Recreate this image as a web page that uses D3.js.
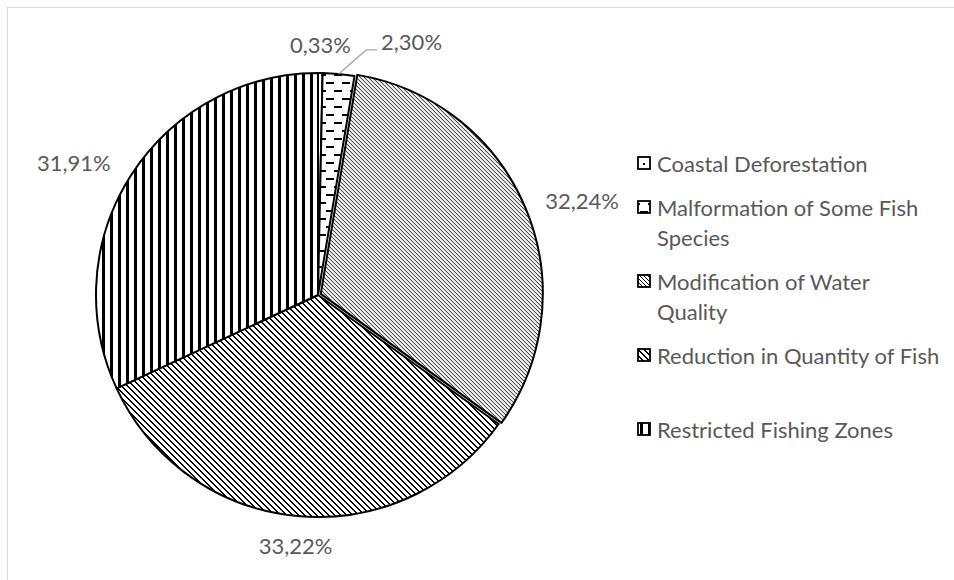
<!DOCTYPE html>
<html>
<head>
<meta charset="utf-8">
<script src="https://cdn.jsdelivr.net/npm/d3@7"></script>
<style>
  html, body { margin: 0; padding: 0; background: #fff; }
  svg { display: block; }
  text { font-family: Lato, "Open Sans", sans-serif; fill: #595959; }
</style>
</head>
<body>
<svg id="chart" width="954" height="580"></svg>
<script>
// Perceived impacts, share of responses (%)
const categories = [
  "Coastal Deforestation",
  "Malformation of Some Fish Species",
  "Modification of Water Quality",
  "Reduction in Quantity of Fish",
  "Restricted Fishing Zones"
];
const shares = [0.33, 2.30, 32.24, 33.22, 31.91];
const patternIds = ["p-dots", "p-dash", "p-diag-fine", "p-diag", "p-vert"];

const W = 954, H = 580;
const cx = 318, cy = 295, R = 222;
const fontSize = 22;
const svg = d3.select("#chart");

// outer frame
svg.append("rect")
  .attr("x", 7.5).attr("y", 7.5).attr("width", W + 20).attr("height", H + 20)
  .attr("fill", "#fff").attr("stroke", "#d9d9d9").attr("stroke-width", 1);

// pixel hatch patterns
const defs = svg.append("defs");
function pattern(id, w, h) {
  const p = defs.append("pattern").attr("id", id)
    .attr("patternUnits", "userSpaceOnUse").attr("width", w).attr("height", h);
  p.append("rect").attr("width", w).attr("height", h).attr("fill", "#fff");
  return p;
}
function px(p, x, y, w, h) {
  p.append("rect").attr("x", x).attr("y", y).attr("width", w).attr("height", h)
    .attr("fill", "#000").attr("shape-rendering", "crispEdges");
}
px(pattern("p-dots", 8, 8), 3, 3, 2, 2);
const dash = pattern("p-dash", 16, 16);
px(dash, 0, 3, 8, 2);
px(dash, 8, 11, 8, 2);
function diag(id, p, thick) {
  const pat = pattern(id, p, p);
  for (let k = 0; k < p; k++) {
    for (let t = 0; t < thick; t++) px(pat, (k + t) % p, k, 1, 1);
  }
}
diag("p-diag-fine", 4, 1);
diag("p-diag", 6, 2);
px(pattern("p-vert", 8, 8), 0, 0, 3, 8);

// pie
const pie = d3.pie().sort(null).value(d => d)(shares);
const arc = d3.arc().innerRadius(0).outerRadius(R);
const explode = [0, 0, 3, 0, 0];
const dirOf = a => [Math.sin(a), -Math.cos(a)];

const g = svg.append("g").attr("transform", `translate(${cx},${cy})`);
g.selectAll("path.slice").data(pie).join("path")
  .attr("class", "slice")
  .attr("d", arc)
  .attr("transform", (d, i) => {
    const [dx, dy] = dirOf((d.startAngle + d.endAngle) / 2);
    return `translate(${dx * explode[i]},${dy * explode[i]})`;
  })
  .attr("fill", (d, i) => `url(#${patternIds[i]})`)
  .attr("stroke", "#000").attr("stroke-width", 2).attr("stroke-linejoin", "round");

// data labels
const fmt = v => d3.format(".2f")(v).replace(".", ",") + "%";
const leaderIdx = 1;
pie.forEach((d, i) => {
  const a = (d.startAngle + d.endAngle) / 2;
  const [dx, dy] = dirOf(a);
  const t = g.append("text").attr("font-size", fontSize).text(fmt(d.data));
  if (i === leaderIdx) {
    const ex = dx * R, ey = dy * R;
    const elbow = [ex + 27.5, ey - 24], end = [elbow[0] + 11, elbow[1]];
    g.append("path")
      .attr("d", `M${ex},${ey}L${elbow[0]},${elbow[1]}L${end[0]},${end[1]}`)
      .attr("fill", "none").attr("stroke", "#a6a6a6").attr("stroke-width", 1.2);
    t.attr("x", end[0] + 4).attr("y", end[1] - 8)
      .attr("text-anchor", "start").attr("dominant-baseline", "central");
  } else if (Math.abs(dx) > 0.5) {
    const rl = 246;
    t.attr("x", dx * rl).attr("y", dy * rl)
      .attr("text-anchor", dx > 0 ? "start" : "end").attr("dominant-baseline", "central");
  } else {
    const rl = 242;
    t.attr("x", dx * rl).attr("y", dy * rl)
      .attr("text-anchor", "middle")
      .attr("dominant-baseline", dy > 0 ? "hanging" : "alphabetic");
  }
});

// legend
const lx = 638, tx = 657, lineH = 30, gap = 14, wrapW = 283, reserveW = 276;
let y = 163;
const leg = svg.append("g");
categories.forEach((name, i) => {
  const t = leg.append("text").attr("x", tx).attr("font-size", fontSize)
    .attr("dominant-baseline", "central");
  t.text(name);
  const fullW = t.node().getComputedTextLength();
  // greedy word wrap
  const words = name.split(" ");
  let lines = [], cur = "";
  words.forEach(w => {
    const test = cur ? cur + " " + w : w;
    t.text(test);
    if (cur && t.node().getComputedTextLength() > wrapW) { lines.push(cur); cur = w; }
    else cur = test;
  });
  lines.push(cur);
  t.text(null);
  lines.forEach((ln, k) => t.append("tspan").attr("x", tx).attr("y", y + k * lineH).text(ln));
  // rows reserved for the entry
  const rows = Math.max(lines.length, Math.ceil(fullW / reserveW));
  leg.append("rect")
    .attr("x", lx).attr("y", y - 6).attr("width", 12).attr("height", 12)
    .attr("fill", `url(#${patternIds[i]})`).attr("stroke", "#000").attr("stroke-width", 1.8);
  y += rows * lineH + gap;
});
</script>
</body>
</html>
